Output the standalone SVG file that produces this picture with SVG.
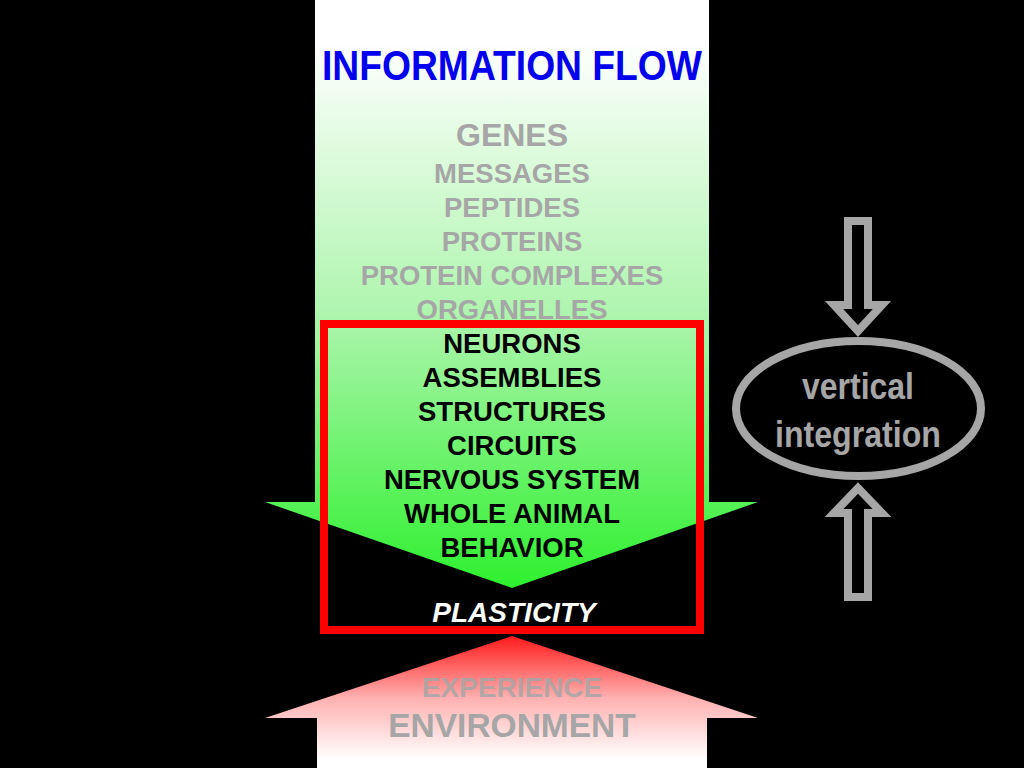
<svg xmlns="http://www.w3.org/2000/svg" width="1024" height="768" viewBox="0 0 1024 768">
<defs>
<linearGradient id="gGreen" gradientUnits="userSpaceOnUse" x1="0" y1="40" x2="0" y2="588">
<stop offset="0" stop-color="#ffffff"/>
<stop offset="0.5" stop-color="#aef5ae"/>
<stop offset="1" stop-color="#2ef02e"/>
</linearGradient>
<linearGradient id="gRed" gradientUnits="userSpaceOnUse" x1="0" y1="636" x2="0" y2="760">
<stop offset="0" stop-color="#ff1a1a"/>
<stop offset="0.5" stop-color="#ffb0b0"/>
<stop offset="1" stop-color="#ffffff"/>
</linearGradient>
<style>
text{font-family:"Liberation Sans",Arial,sans-serif;font-weight:bold;text-anchor:middle}
.gray{fill:#a6a6a6}
.blk{fill:#000000;font-size:27.5px}
.lvl{font-size:27.5px}
.hollow{fill:none;stroke:#a6a6a6;stroke-width:8;stroke-linejoin:miter}
</style>
</defs>
<rect x="0" y="0" width="1024" height="768" fill="#000000"/>
<g id="flow-arrow">
<polygon points="315,0 709,0 709,502 758,502 512,588 265,502 315,502" fill="url(#gGreen)"/>
</g>
<g id="experience-arrow">
<polygon points="512,636 758,718 707,718 707,768 317,768 317,718 265,718" fill="url(#gRed)"/>
</g>
<g id="title">
<text x="512" y="80" font-size="42" fill="#0000ee" textLength="380" lengthAdjust="spacingAndGlyphs">INFORMATION FLOW</text>
</g>
<g id="molecular-levels">
<text class="gray" x="512" y="146" font-size="32">GENES</text>
<text class="gray lvl" x="512" y="183">MESSAGES</text>
<text class="gray lvl" x="512" y="217">PEPTIDES</text>
<text class="gray lvl" x="512" y="251">PROTEINS</text>
<text class="gray lvl" x="512" y="285">PROTEIN COMPLEXES</text>
<text class="gray lvl" x="512" y="319">ORGANELLES</text>
</g>
<g id="plasticity-box">
<rect x="324" y="324" width="376" height="306" fill="none" stroke="#ff0000" stroke-width="8"/>
<text class="blk" x="512" y="353">NEURONS</text>
<text class="blk" x="512" y="387">ASSEMBLIES</text>
<text class="blk" x="512" y="421">STRUCTURES</text>
<text class="blk" x="512" y="455">CIRCUITS</text>
<text class="blk" x="512" y="489">NERVOUS SYSTEM</text>
<text class="blk" x="512" y="523">WHOLE ANIMAL</text>
<text class="blk" x="512" y="557">BEHAVIOR</text>
<text x="514" y="622" font-size="28" font-style="italic" fill="#ffffff">PLASTICITY</text>
</g>
<g id="experience-labels">
<text class="gray" x="512" y="697" font-size="28" fill-opacity="0.85">EXPERIENCE</text>
<text class="gray" x="512" y="737" font-size="33.5">ENVIRONMENT</text>
</g>
<g id="vertical-integration">
<ellipse cx="858.5" cy="408.5" rx="122.5" ry="67.5" fill="#000000" stroke="#a6a6a6" stroke-width="8"/>
<text class="gray" x="858" y="399" font-size="36" textLength="112" lengthAdjust="spacingAndGlyphs">vertical</text>
<text class="gray" x="858" y="447" font-size="36" textLength="166" lengthAdjust="spacingAndGlyphs">integration</text>
</g>
<g id="connectors">
<polygon class="hollow" points="848,221 868,221 868,305 882,305 858,331 834,305 848,305"/>
<polygon class="hollow" points="858,488 882,513 868,513 868,597 848,597 848,513 834,513"/>
</g>
</svg>
